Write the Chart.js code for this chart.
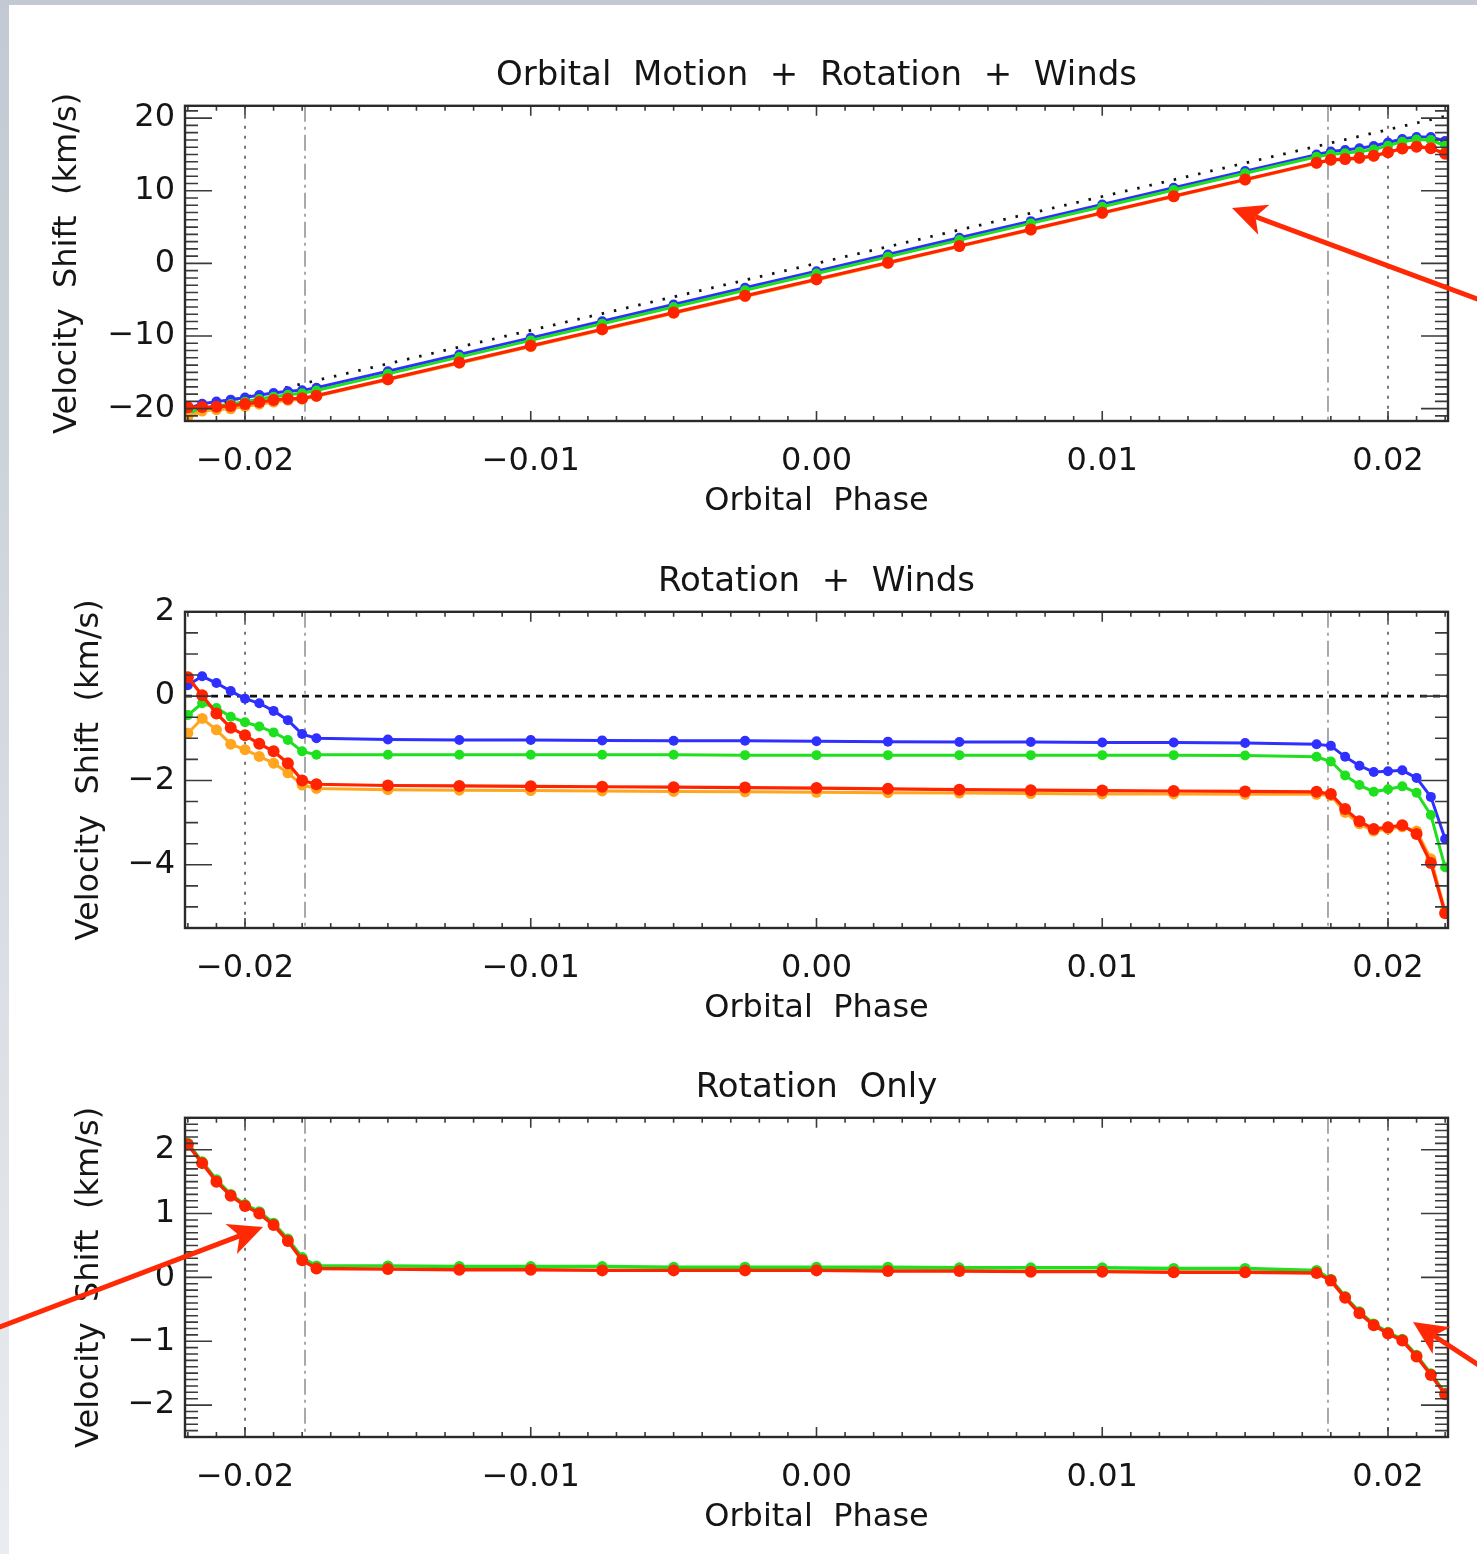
<!DOCTYPE html>
<html>
<head>
<meta charset="utf-8">
<script src="https://cdn.jsdelivr.net/npm/chart.js@4.4.0/dist/chart.umd.min.js"></script>
<style>
  html, body { margin: 0; padding: 0; }
  body { width: 1477px; height: 1554px; position: relative; overflow: hidden;
         background: linear-gradient(to bottom, #c2c9d2, #e9ecf0); }
  #sheet { position: absolute; left: 9px; top: 5px; right: 0; bottom: 0; background: #fff; }
  .panel { position: absolute; left: 0; }
  #arrows { position: absolute; left: 0; top: 0; pointer-events: none; }
</style>
</head>
<body>
<div id="sheet"></div>
<canvas id="c1" class="panel" width="1477" height="487" style="top:44px"></canvas>
<canvas id="c2" class="panel" width="1477" height="488" style="top:550px"></canvas>
<canvas id="c3" class="panel" width="1477" height="491" style="top:1056px"></canvas>
<svg id="arrows" width="1477" height="1554"></svg>

<script>
/* data */
const phase = [-0.022, -0.0215, -0.021, -0.0205, -0.020, -0.0195, -0.019, -0.0185, -0.018, -0.0175,
  -0.015, -0.0125, -0.010, -0.0075, -0.005, -0.0025, 0.000, 0.0025, 0.005, 0.0075, 0.010, 0.0125, 0.015,
  0.0175, 0.018, 0.0185, 0.019, 0.0195, 0.020, 0.0205, 0.021, 0.0215, 0.022];

// panel 1: orbital motion + rotation + winds
const orbitalOnly = [-20.26, -19.80, -19.34, -18.88, -18.42, -17.96, -17.50, -17.04, -16.58, -16.12,
  -13.82, -11.51, -9.21, -6.91, -4.61, -2.30, 0.00, 2.30, 4.61, 6.91, 9.21, 11.51, 13.82,
  16.12, 16.58, 17.04, 17.50, 17.96, 18.42, 18.88, 19.34, 19.80, 20.26];
const totalBlue = [-20.00, -19.33, -19.03, -18.76, -18.48, -18.13, -17.85, -17.61, -17.48, -17.12,
  -14.85, -12.55, -10.25, -7.96, -5.67, -3.36, -1.07, 1.22, 3.52, 5.82, 8.11, 10.41, 12.71,
  14.98, 15.40, 15.60, 15.85, 16.16, 16.64, 17.12, 17.40, 17.41, 16.87];
const totalGreen = [-20.71, -19.97, -19.62, -19.37, -19.04, -18.68, -18.36, -18.08, -17.89, -17.51,
  -15.21, -12.90, -10.60, -8.30, -6.00, -3.70, -1.40, 0.90, 3.21, 5.51, 7.81, 10.11, 12.41,
  14.68, 15.03, 15.16, 15.39, 15.69, 16.21, 16.74, 17.05, 16.98, 16.20];
const totalOrange = [-21.14, -20.33, -20.14, -20.02, -19.69, -19.39, -19.09, -18.86, -18.69, -18.31,
  -16.04, -13.74, -11.45, -9.16, -6.87, -4.57, -2.28, 0.01, 2.31, 4.60, 6.89, 9.19, 11.49,
  13.79, 14.22, 14.28, 14.47, 14.76, 15.27, 15.78, 16.14, 15.94, 15.16];
const totalRed = [-19.81, -19.78, -19.75, -19.63, -19.35, -19.09, -18.81, -18.63, -18.58, -18.21,
  -15.94, -13.64, -11.35, -9.06, -6.77, -4.47, -2.18, 0.10, 2.39, 4.68, 6.97, 9.26, 11.56,
  13.85, 14.26, 14.36, 14.53, 14.81, 15.31, 15.82, 16.07, 15.84, 15.11];

// panel 2: rotation + winds
const windBlue = [0.26, 0.47, 0.31, 0.12, -0.06, -0.17, -0.35, -0.57, -0.90, -1.00,
  -1.03, -1.04, -1.04, -1.05, -1.06, -1.06, -1.07, -1.08, -1.09, -1.09, -1.10, -1.10, -1.11,
  -1.14, -1.18, -1.44, -1.65, -1.80, -1.78, -1.76, -1.94, -2.39, -3.39];
const windGreen = [-0.45, -0.17, -0.28, -0.49, -0.62, -0.72, -0.86, -1.04, -1.31, -1.39,
  -1.39, -1.39, -1.39, -1.39, -1.39, -1.40, -1.40, -1.40, -1.40, -1.40, -1.40, -1.40, -1.41,
  -1.44, -1.55, -1.88, -2.11, -2.27, -2.21, -2.14, -2.29, -2.82, -4.06];
const windOrange = [-0.88, -0.53, -0.80, -1.14, -1.27, -1.43, -1.59, -1.82, -2.11, -2.19,
  -2.22, -2.23, -2.24, -2.25, -2.26, -2.27, -2.28, -2.29, -2.30, -2.31, -2.32, -2.32, -2.33,
  -2.33, -2.36, -2.76, -3.03, -3.20, -3.15, -3.10, -3.20, -3.86, -5.10];
const windRed = [0.45, 0.02, -0.41, -0.75, -0.93, -1.13, -1.31, -1.59, -2.00, -2.09,
  -2.12, -2.13, -2.14, -2.15, -2.16, -2.17, -2.18, -2.20, -2.22, -2.23, -2.24, -2.25, -2.26,
  -2.27, -2.32, -2.68, -2.97, -3.15, -3.11, -3.06, -3.27, -3.96, -5.15];

// panel 3: rotation only
const rotGreen = [2.10, 1.81, 1.53, 1.30, 1.14, 1.03, 0.85, 0.60, 0.31, 0.18,
  0.18, 0.17, 0.17, 0.17, 0.16, 0.16, 0.16, 0.16, 0.15, 0.15, 0.15, 0.14, 0.14,
  0.11, -0.03, -0.30, -0.54, -0.73, -0.86, -0.97, -1.22, -1.51, -1.81];
const rotRed = [2.08, 1.79, 1.50, 1.28, 1.12, 1.00, 0.82, 0.57, 0.27, 0.14,
  0.13, 0.12, 0.12, 0.11, 0.11, 0.11, 0.11, 0.10, 0.10, 0.09, 0.09, 0.08, 0.08,
  0.07, -0.05, -0.32, -0.56, -0.75, -0.88, -0.99, -1.24, -1.53, -1.83];

// ticks and reference phases
const phaseTicks = [-0.02, -0.01, 0.00, 0.01, 0.02];
const vTicks1 = [-20, -10, 0, 10, 20];
const vTicks2 = [-4, -2, 0, 2];
const vTicks3 = [-2, -1, 0, 1, 2];
const contactPhases = [-0.0179, 0.0179];
const edgePhases = [-0.0200, 0.0200];

const FONT = 'DejaVu Sans';
const INK = '#151515';
const BLUE = '#2f2fff', GREEN = '#1fe01f', ORANGE = '#ffa51e', RED = '#ff2300';

function minus(v, d) {
  const s = Math.abs(v).toFixed(d);
  return v < -1e-9 ? '\u2212' + s : s;
}

function series(ys, color, order, w, r) {
  return {
    data: phase.map((p, i) => ({ x: p, y: ys[i] })),
    borderColor: color, backgroundColor: color,
    pointBackgroundColor: color, pointBorderColor: color,
    borderWidth: w, pointRadius: r, pointBorderWidth: 0, order: order
  };
}

/* IDL style box: ticks inward on all four sides + vertical reference lines */
const idlFrame = {
  id: 'idlFrame',
  beforeDatasetsDraw(chart, args, opts) {
    const { ctx, chartArea: a, scales: { x, y } } = chart;
    ctx.save();
    ctx.beginPath(); ctx.rect(a.left, a.top, a.right - a.left, a.bottom - a.top); ctx.clip();
    const vline = (p, color, dash) => {
      const px = x.getPixelForValue(p);
      ctx.strokeStyle = color; ctx.lineWidth = 1.8; ctx.setLineDash(dash);
      ctx.beginPath(); ctx.moveTo(px, a.top); ctx.lineTo(px, a.bottom); ctx.stroke();
    };
    edgePhases.forEach(p => vline(p, '#6a6a6a', [3, 7]));
    contactPhases.forEach(p => vline(p, '#a0a0a0', [16, 5, 3, 5]));
    if (opts.zero) {
      const py = y.getPixelForValue(0);
      ctx.strokeStyle = '#111'; ctx.lineWidth = 2.8; ctx.setLineDash([7, 6]);
      ctx.beginPath(); ctx.moveTo(a.left, py); ctx.lineTo(a.right, py); ctx.stroke();
    }
    ctx.restore();
  },
  afterDraw(chart, args, opts) {
    const { ctx, chartArea: a, scales: { x, y } } = chart;
    ctx.save();
    ctx.strokeStyle = '#3a3a3a'; ctx.lineWidth = 1.6;
    // x ticks every 0.001, long every 0.01
    for (let k = Math.ceil(x.min / 0.001 - 1e-6); k * 0.001 <= x.max + 1e-9; k++) {
      const px = x.getPixelForValue(k * 0.001);
      const len = (k % 10 === 0) ? 10 : 5;
      ctx.beginPath();
      ctx.moveTo(px, a.bottom); ctx.lineTo(px, a.bottom - len);
      ctx.moveTo(px, a.top); ctx.lineTo(px, a.top + len);
      ctx.stroke();
    }
    // y ticks
    const step = opts.yMinor, per = opts.yPer;
    for (let k = Math.ceil(y.min / step - 1e-6); k * step <= y.max + 1e-9; k++) {
      const py = y.getPixelForValue(k * step);
      const len = (k % per === 0) ? 27 : 13;
      ctx.beginPath();
      ctx.moveTo(a.left, py); ctx.lineTo(a.left + len, py);
      ctx.moveTo(a.right, py); ctx.lineTo(a.right - len, py);
      ctx.stroke();
    }
    ctx.lineWidth = 2.4; ctx.strokeStyle = '#2a2a2a';
    ctx.strokeRect(a.left, a.top, a.right - a.left, a.bottom - a.top);
    ctx.restore();
  }
};

function makeChart(id, title, datasets, yMin, yMax, yTicks, yMinor, yPer, yTitlePad, zero) {
  const font = { family: FONT, size: 32, weight: 'normal', lineHeight: 1.2 };
  return new Chart(document.getElementById(id), {
    type: 'line',
    data: { datasets: datasets },
    options: {
      responsive: false, animation: false, devicePixelRatio: 1,
      layout: { padding: { left: 0, right: 29, top: 0, bottom: 0 } },
      plugins: {
        legend: { display: false },
        tooltip: { enabled: false },
        title: { display: true, text: title, fullSize: false, color: INK,
                 font: { family: FONT, size: 34, weight: 'normal', lineHeight: 1.2 },
                 padding: { top: 12, bottom: 9 } },
        idlFrame: { yMinor: yMinor, yPer: yPer, zero: zero }
      },
      scales: {
        x: {
          type: 'linear', min: -0.0221, max: 0.0221,
          afterBuildTicks: s => { s.ticks = phaseTicks.map(v => ({ value: v })); },
          afterFit: s => { s.height = 110; },
          grid: { display: false, drawTicks: false }, border: { display: false },
          ticks: { callback: v => minus(v, 2), font: font, color: INK, padding: 21,
                   maxRotation: 0, autoSkip: false },
          title: { display: true, text: 'Orbital  Phase', font: font, color: INK,
                   padding: { top: 0, bottom: 10 } }
        },
        y: {
          type: 'linear', min: yMin, max: yMax,
          afterBuildTicks: s => { s.ticks = yTicks.map(v => ({ value: v })); },
          afterFit: s => { s.width = 185; },
          grid: { display: false, drawTicks: false }, border: { display: false },
          ticks: { callback: v => minus(v, 0), font: font, color: INK, padding: 10, autoSkip: false },
          title: { display: true, text: 'Velocity  Shift  (km/s)', font: font, color: INK,
                   padding: { top: yTitlePad, bottom: 0 } }
        }
      }
    },
    plugins: [idlFrame]
  });
}

const orbitalLine = {
  data: phase.map((p, i) => ({ x: p, y: orbitalOnly[i] })),
  borderColor: '#111', borderWidth: 2.8, borderDash: [2.5, 10], pointRadius: 0, order: 5
};

makeChart('c1', 'Orbital  Motion  +  Rotation  +  Winds', [
  series(totalRed, RED, 1, 3.2, 6),
  series(totalOrange, ORANGE, 2, 3, 5.5),
  series(totalGreen, GREEN, 3, 3, 5),
  series(totalBlue, BLUE, 4, 3, 5)
  , orbitalLine
], -21.7, 21.7, vTicks1, 1, 10, 48, false);

makeChart('c2', 'Rotation  +  Winds', [
  series(windRed, RED, 1, 3.2, 6),
  series(windOrange, ORANGE, 2, 3, 5.5),
  series(windGreen, GREEN, 3, 3, 5),
  series(windBlue, BLUE, 4, 3, 5)
], -5.5, 2.0, vTicks2, 0.5, 4, 70, true);

makeChart('c3', 'Rotation  Only', [
  series(rotRed, RED, 1, 3.4, 6),
  series(rotGreen, GREEN, 2, 3.4, 5.5)
], -2.5, 2.5, vTicks3, 0.1, 10, 70, false);

/* red annotation arrows laid over the figure */
const svg = document.getElementById('arrows');
function arrow(x0, y0, x1, y1) {
  const dx = x1 - x0, dy = y1 - y0, d = Math.hypot(dx, dy);
  const ux = dx / d, uy = dy / d, nx = -uy, ny = ux;
  const L = 34, W = 16, notch = 9;
  const bx = x1 - (L - notch) * ux, by = y1 - (L - notch) * uy;
  const ns = 'http://www.w3.org/2000/svg';
  const ln = document.createElementNS(ns, 'line');
  ln.setAttribute('x1', x0); ln.setAttribute('y1', y0);
  ln.setAttribute('x2', bx); ln.setAttribute('y2', by);
  ln.setAttribute('stroke', '#ff2a05'); ln.setAttribute('stroke-width', 5);
  svg.appendChild(ln);
  const pts = [
    [x1, y1],
    [x1 - L * ux + W * nx, y1 - L * uy + W * ny],
    [bx, by],
    [x1 - L * ux - W * nx, y1 - L * uy - W * ny]
  ].map(p => p.join(',')).join(' ');
  const head = document.createElementNS(ns, 'polygon');
  head.setAttribute('points', pts); head.setAttribute('fill', '#ff2a05');
  svg.appendChild(head);
}
arrow(1480, 300, 1232, 208);
arrow(-3, 1328, 263, 1227);
arrow(1480, 1366, 1413, 1322);
</script>
</body>
</html>
